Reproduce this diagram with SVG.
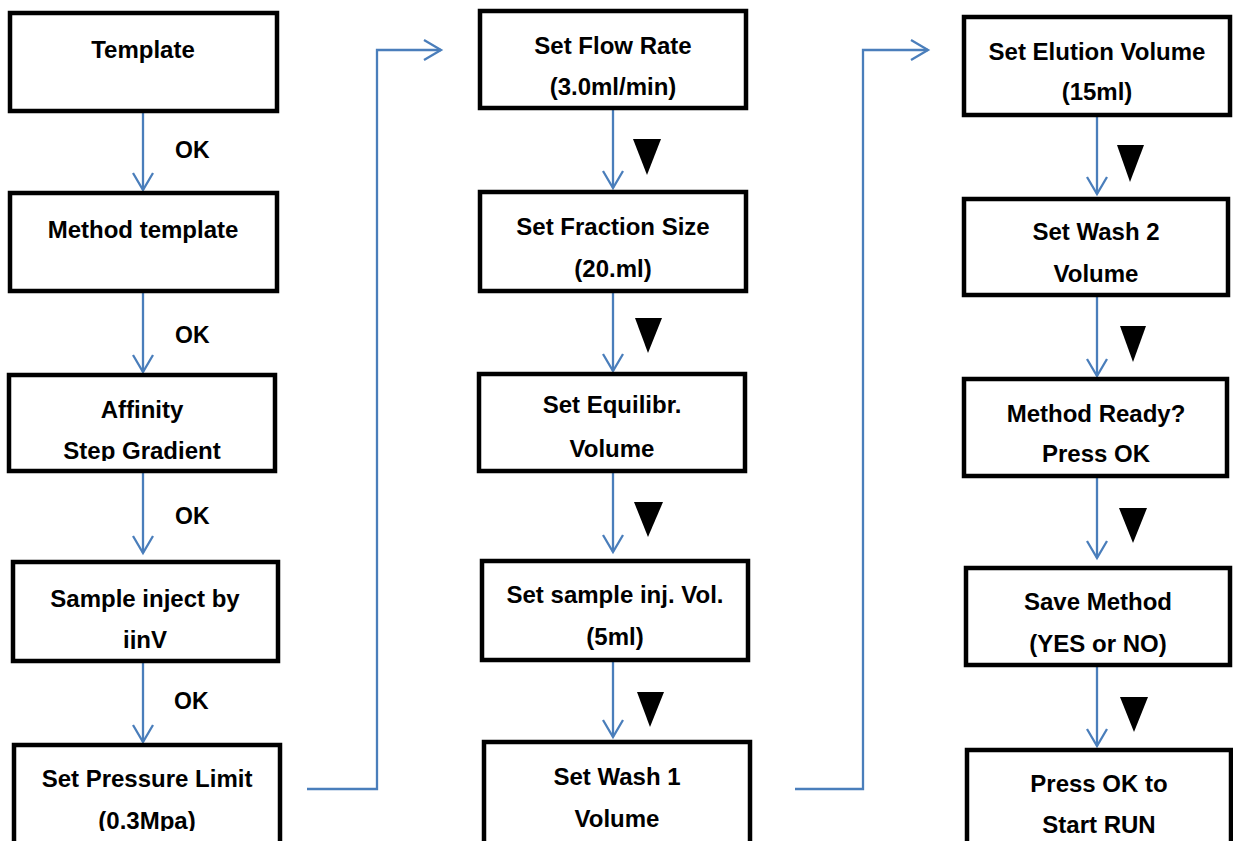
<svg xmlns="http://www.w3.org/2000/svg" width="1233" height="841" viewBox="0 0 1233 841">
<style>
.box{fill:#fff;stroke:#000;stroke-width:4.5}
.t{font-family:"Liberation Sans",Arial,sans-serif;font-weight:bold;font-size:24px;fill:#000;text-anchor:middle}
.ok{font-family:"Liberation Sans",Arial,sans-serif;font-weight:bold;font-size:23px;fill:#000}
.c{fill:none;stroke:#4A7EBB;stroke-width:2.3}
.tri{fill:#000}
</style>
<defs>
<marker id="ah" markerUnits="userSpaceOnUse" markerWidth="26" markerHeight="26" viewBox="-22 -13 26 26" refX="0" refY="0" orient="auto" overflow="visible">
<path d="M-17,-10 L0,0 L-17,10" fill="none" stroke="#4A7EBB" stroke-width="2.3"/>
</marker>
<clipPath id="cl3"><rect x="0" y="370" width="300" height="91"/></clipPath>
<clipPath id="cl4"><rect x="0" y="558" width="300" height="91"/></clipPath>
<clipPath id="cl5"><rect x="0" y="740" width="300" height="91"/></clipPath>
</defs>
<rect width="1233" height="841" fill="#fff"/>

<g id="connectors">
<path class="c" d="M143,113 V190" marker-end="url(#ah)"/>
<path class="c" d="M143,293 V372" marker-end="url(#ah)"/>
<path class="c" d="M143,473 V553" marker-end="url(#ah)"/>
<path class="c" d="M143,663 V742" marker-end="url(#ah)"/>
<path class="c" d="M307,789 H377 V50 H441" marker-end="url(#ah)"/>
<path class="c" d="M613,110 V188" marker-end="url(#ah)"/>
<path class="c" d="M613,293 V371" marker-end="url(#ah)"/>
<path class="c" d="M613,473 V552" marker-end="url(#ah)"/>
<path class="c" d="M613,662 V737" marker-end="url(#ah)"/>
<path class="c" d="M795,789 H863 V50 H928" marker-end="url(#ah)"/>
<path class="c" d="M1097,117 V194" marker-end="url(#ah)"/>
<path class="c" d="M1097,297 V376" marker-end="url(#ah)"/>
<path class="c" d="M1097,478 V558" marker-end="url(#ah)"/>
<path class="c" d="M1097,667 V746" marker-end="url(#ah)"/>
<text class="ok" x="175" y="158">OK</text>
<text class="ok" x="175" y="343">OK</text>
<text class="ok" x="175" y="524">OK</text>
<text class="ok" x="174" y="709">OK</text>
<polygon class="tri" points="633,139 661,139 647,175"/>
<polygon class="tri" points="635,318 662,318 648,353"/>
<polygon class="tri" points="634,502 663,502 648,537"/>
<polygon class="tri" points="637,692 664,692 650,727"/>
<polygon class="tri" points="1117,145 1144,145 1130,182"/>
<polygon class="tri" points="1120,326 1146,326 1133,362"/>
<polygon class="tri" points="1119,508 1147,508 1133,543"/>
<polygon class="tri" points="1120,697 1148,697 1134,732"/>
</g>

<g id="n-template"><rect class="box" x="10" y="13" width="267" height="98"/><text class="t" x="143" y="58">Template</text></g>
<g id="n-method-template"><rect class="box" x="10" y="193" width="267" height="98"/><text class="t" x="143" y="238">Method template</text></g>
<g id="n-affinity"><rect class="box" x="9" y="375" width="266" height="96"/><g clip-path="url(#cl3)"><text class="t" x="142" y="418">Affinity</text><text class="t" x="142" y="459">Step Gradient</text></g></g>
<g id="n-sample-inject"><rect class="box" x="13" y="562" width="265" height="99"/><g clip-path="url(#cl4)"><text class="t" x="145" y="607">Sample inject by</text><text class="t" x="145" y="648">ijnV</text></g></g>
<g id="n-pressure"><rect class="box" x="14" y="745" width="266" height="120"/><g clip-path="url(#cl5)"><text class="t" x="147" y="787">Set Pressure Limit</text><text class="t" x="147" y="829">(0.3Mpa)</text></g></g>

<g id="n-flow"><rect class="box" x="480" y="11" width="266" height="97"/><text class="t" x="613" y="54">Set Flow Rate</text><text class="t" x="613" y="95">(3.0ml/min)</text></g>
<g id="n-fraction"><rect class="box" x="480" y="192" width="266" height="99"/><text class="t" x="613" y="235">Set Fraction Size</text><text class="t" x="613" y="277">(20.ml)</text></g>
<g id="n-equil"><rect class="box" x="479" y="374" width="266" height="97"/><text class="t" x="612" y="413">Set Equilibr.</text><text class="t" x="612" y="457">Volume</text></g>
<g id="n-sample-vol"><rect class="box" x="482" y="561" width="266" height="99"/><text class="t" x="615" y="603">Set sample inj. Vol.</text><text class="t" x="615" y="645">(5ml)</text></g>
<g id="n-wash1"><rect class="box" x="484" y="742" width="266" height="120"/><text class="t" x="617" y="785">Set Wash 1</text><text class="t" x="617" y="827">Volume</text></g>

<g id="n-elution"><rect class="box" x="964" y="17" width="266" height="98"/><text class="t" x="1097" y="60">Set Elution Volume</text><text class="t" x="1097" y="100">(15ml)</text></g>
<g id="n-wash2"><rect class="box" x="964" y="199" width="264" height="96"/><text class="t" x="1096" y="240">Set Wash 2</text><text class="t" x="1096" y="282">Volume</text></g>
<g id="n-ready"><rect class="box" x="964" y="379" width="263" height="97"/><text class="t" x="1096" y="422">Method Ready?</text><text class="t" x="1096" y="462">Press OK</text></g>
<g id="n-save"><rect class="box" x="966" y="568" width="264" height="97"/><text class="t" x="1098" y="610">Save Method</text><text class="t" x="1098" y="652">(YES or NO)</text></g>
<g id="n-run"><rect class="box" x="967" y="750" width="264" height="120"/><text class="t" x="1099" y="792">Press OK to</text><text class="t" x="1099" y="833">Start RUN</text></g>
</svg>
